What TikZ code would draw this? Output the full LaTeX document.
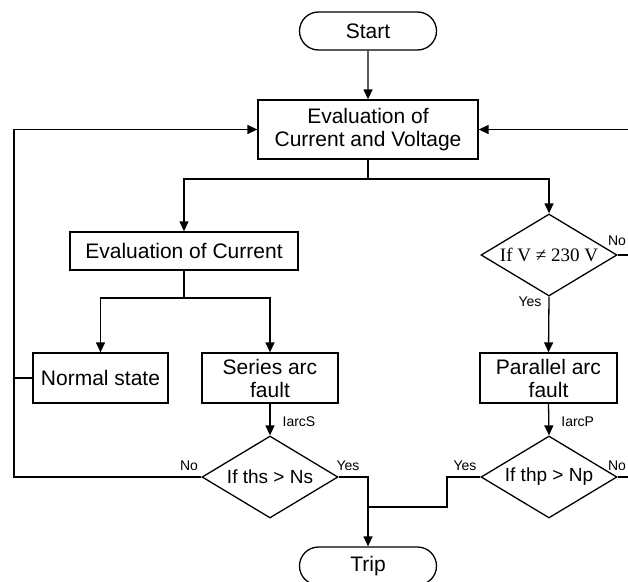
\documentclass[tikz,border=0pt]{standalone}
\usepackage{fontspec}
\setmainfont{Liberation Sans}
\newfontfamily\serifnum{Liberation Serif}
\usetikzlibrary{shapes.geometric,shapes.misc,arrows.meta}
\begin{document}
\begin{tikzpicture}[x=1pt,y=-1pt,
  line width=1.3pt,
  arr/.style={-{Triangle[length=10pt,width=9pt]}},
  box/.style={draw,rectangle,inner sep=0pt,align=center,font=\fontsize{21}{23}\selectfont},
  term/.style={draw,rounded rectangle,inner sep=0pt,minimum width=137pt,minimum height=38pt,font=\fontsize{21}{23}\selectfont},
  dec/.style={draw,diamond,inner sep=0pt,aspect=1.66,minimum width=136pt,minimum height=82pt,font=\fontsize{19}{21}\selectfont},
  lbl/.style={inner sep=0pt,font=\fontsize{14}{15}\selectfont}]
\useasboundingbox (0,0) rectangle (628,581);
\node[term] (start) at (368,31) {Start};
\node[box,minimum width=220pt,minimum height=59pt] (ecv) at (368,129.5) {Evaluation of\\Current and Voltage};
\node[box,minimum width=228pt,minimum height=38pt] (ec) at (184,251) {Evaluation of Current};
\node[box,minimum width=135pt,minimum height=50pt] (ns) at (100.5,378) {Normal state};
\node[box,minimum width=136pt,minimum height=50pt] (saf) at (270,378) {Series arc\\fault};
\node[box,minimum width=137pt,minimum height=50pt] (paf) at (548.5,378) {Parallel arc\\fault};
\node[dec] (d1) at (270,477) {If ths > Ns};
\node[dec] (d2) at (549,255) {\serifnum If V ≠ 230 V};
\node[dec] (d3) at (549,477) {If thp > Np};
\node[term] (trip) at (368,566) {Trip};
\coordinate (j1) at (368,179);
\coordinate (j2) at (184,298);
\coordinate (le) at (14,477);
\coordinate (re2) at (634,255);
\coordinate (re3) at (634,477);
\coordinate (m1) at (447,477);
\coordinate (m2) at (368,507);
\draw[arr] (start) -- (ecv);
\draw[arr] (ecv.south) -- (j1) -| (ec.north);
\draw[arr] (j1) -| (d2.north);
\draw (ec.south) -- (j2);
\draw[arr] (j2) -| (ns.north);
\draw[arr] (j2) -| (saf.north);
\draw[arr] (saf.south) -- node[lbl,right=12pt,yshift=-2pt] {IarcS} (d1.north);
\draw[arr] (paf.south) -- node[lbl,right=12pt,yshift=-2pt] {IarcP} (d3.north);
\draw[arr] (d2.south) -- (paf.north);
\draw[arr] (d1.west) -- (le) |- (ecv.west);
\draw (ns.west) -- (ns.west -| le);
\draw[arr] (d1.east) -| (trip.north);
\draw (d3.west) -- (m1) |- (m2);
\draw (d2.east) -- (re2);
\draw[arr] (d3.east) -- (re3) |- (ecv.east);
\node[lbl] (no1) at (189,466) {No};
\node[lbl] (yes1) at (348,466) {Yes};
\node[lbl] (yes3) at (465,466) {Yes};
\node[lbl] (no3) at (617,466) {No};
\node[lbl] (no2) at (617,241) {No};
\node[lbl] (yes2) at (530,302) {Yes};
\end{tikzpicture}
\end{document}
